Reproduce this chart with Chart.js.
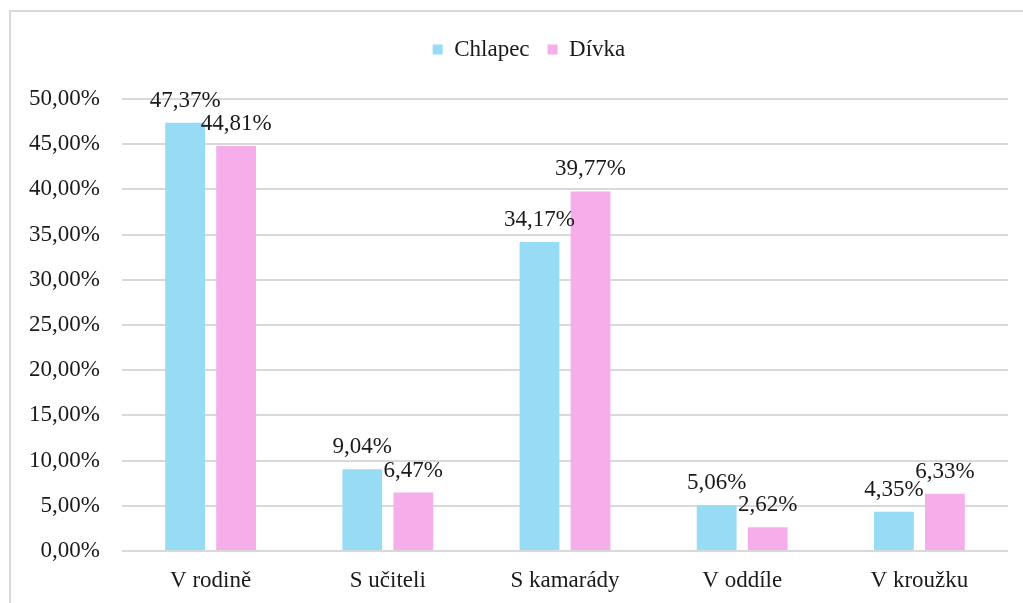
<!DOCTYPE html>
<html>
<head>
<meta charset="utf-8">
<script src="https://cdn.jsdelivr.net/npm/chart.js@4"></script>
<style>
  html, body { margin: 0; padding: 0; background: #fff; overflow: hidden; }
  #wrap { position: relative; width: 1023px; height: 603px; }
  #frame { position: absolute; left: 9px; top: 10px; width: 1030px; height: 610px; border: 2px solid #d9d9d9; box-sizing: border-box; }
  canvas { position: absolute; left: 0; top: 0; }
</style>
</head>
<body>
<div id="wrap">
  <div id="frame"></div>
  <canvas id="chart" width="1023" height="603"></canvas>
</div>
<script>
// categories and series
const categories = ['V rodině', 'S učiteli', 'S kamarády', 'V oddíle', 'V kroužku'];
const chlapec = [47.37, 9.04, 34.17, 5.06, 4.35];
const divka = [44.81, 6.47, 39.77, 2.62, 6.33];
const yTicks = [0, 5, 10, 15, 20, 25, 30, 35, 40, 45, 50];

const fontFamily = '"Liberation Serif", "Times New Roman", serif';
const fontSize = 23;
const textColor = '#1a1a1a';

const fmt = v => v.toFixed(2).replace('.', ',') + '%';

// draws the value labels above each bar
const valueLabels = {
    id: 'valueLabels',
    afterDatasetsDraw(chart) {
        const ctx = chart.ctx;
        ctx.save();
        ctx.font = fontSize + 'px ' + fontFamily;
        ctx.fillStyle = textColor;
        ctx.textAlign = 'center';
        ctx.textBaseline = 'alphabetic';
        chart.data.datasets.forEach((ds, i) => {
            chart.getDatasetMeta(i).data.forEach((bar, j) => {
                ctx.fillText(fmt(ds.data[j]), bar.x, bar.y - 16);
            });
        });
        ctx.restore();
    }
};

// extra room under the legend, and legend nudged right like the original
const legendGap = {
    id: 'legendGap',
    beforeInit(chart) {
        const fit = chart.legend.fit;
        chart.legend.fit = function () {
            fit.bind(chart.legend)();
            this.height += 28;
        };
    },
    afterLayout(chart) {
        chart.legend.left += 50;
    }
};

new Chart(document.getElementById('chart').getContext('2d'), {
    type: 'bar',
    data: {
        labels: categories,
        datasets: [{
            label: 'Chlapec',
            data: chlapec,
            backgroundColor: '#97dbf5',
            categoryPercentage: 0.576,
            barPercentage: 0.78
        }, {
            label: 'Dívka',
            data: divka,
            backgroundColor: '#f6aeea',
            categoryPercentage: 0.576,
            barPercentage: 0.78
        }]
    },
    options: {
        responsive: false,
        animation: false,
        layout: { padding: { left: 0, right: 15, top: 20, bottom: 0 } },
        plugins: {
            legend: {
                position: 'top',
                labels: {
                    font: { family: fontFamily, size: fontSize },
                    color: textColor,
                    boxWidth: 10,
                    boxHeight: 10,
                    padding: 18
                }
            },
            tooltip: { enabled: false }
        },
        scales: {
            x: {
                grid: { display: false },
                border: { display: false },
                ticks: {
                    font: { family: fontFamily, size: fontSize },
                    color: textColor,
                    padding: 8
                },
                afterFit: s => { s.height = 52; }
            },
            y: {
                min: 0,
                max: 50,
                afterBuildTicks: s => { s.ticks = yTicks.map(v => ({ value: v })); },
                grid: { color: '#d9d9d9', lineWidth: 2, drawTicks: false },
                border: { display: false },
                ticks: {
                    font: { family: fontFamily, size: fontSize },
                    color: textColor,
                    padding: 22,
                    callback: v => fmt(v)
                },
                afterFit: s => { s.width = 122; }
            }
        }
    },
    plugins: [valueLabels, legendGap]
});
</script>
</body>
</html>
